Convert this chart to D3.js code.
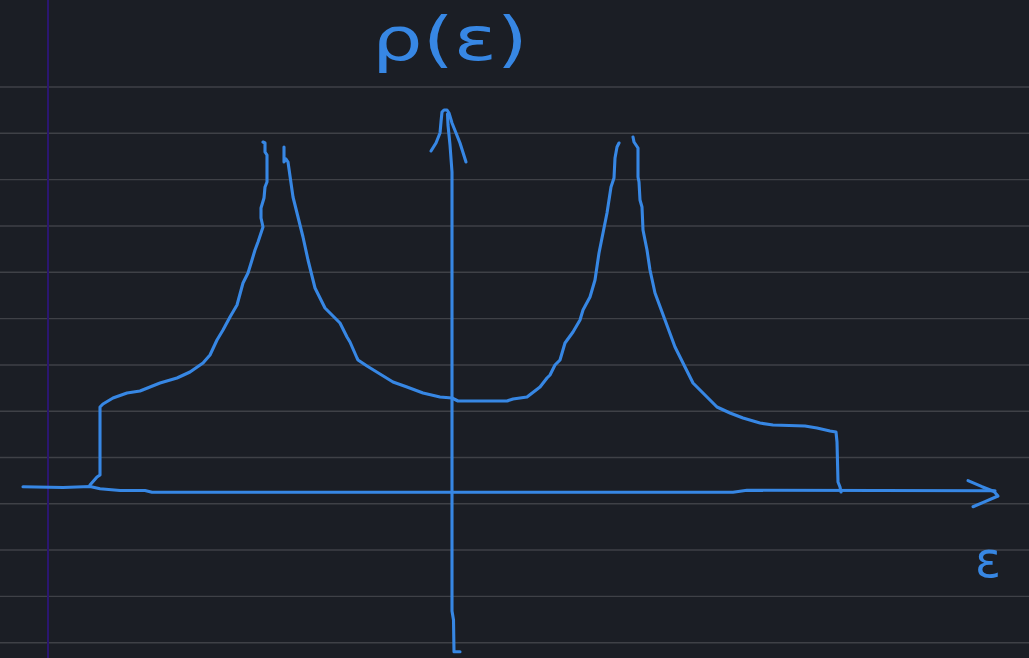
<!DOCTYPE html>
<html>
<head>
<meta charset="utf-8">
<script src="https://cdn.jsdelivr.net/npm/d3@7"></script>
<style>
  html, body { margin: 0; padding: 0; background: #1b1e25; }
  svg { display: block; }
</style>
</head>
<body>
<svg id="chart" width="1029" height="658"></svg>
<script>
// ---- Data (sketch units: ε horizontal, ρ vertical, origin at axes crossing) ----
// Paper rule lines (ρ positions) and margin line (ε position)
const ruleLines = [405, 358.7, 312.4, 266, 219.7, 173.4, 127, 80.8, 34.5, -11.8, -58, -104.4, -150.7];
const marginLine = [-404];

// Density of states ρ(ε): three hand-drawn strokes
const dosLeft = [
  [-362,7],[-355,15],[-352,17],[-352,85],[-349,88],[-339,94],[-325,99],[-312,101],
  [-292,109],[-275,114],[-262,120],[-249,129],[-242,137],[-235,152],[-229,162],
  [-222,175],[-215,187],[-209,209],[-204,219],[-200,232],[-197,242],[-194,250],
  [-189,265],[-191,274],[-191,284],[-188,294],[-187,305],[-185,310],[-185,337],
  [-187,340],[-187,349],[-189,350]
];
const dosMiddle = [
  [-168,345],[-168,330],[-166,333],[-164,330],[-159,295],[-154,275],[-149,255],
  [-144,232],[-137,204],[-127,184],[-115,172],[-112,169],[-105,155],[-102,150],
  [-95,134],[-94,132],[-85,126],[-72,118],[-59,110],[-45,105],[-29,99],[-12,95],
  [0,94],[6,91],[55,91],[61,93],[75,95],[88,105],[95,114],[98,117],[103,127],
  [108,132],[113,149],[121,160],[128,172],[131,182],[138,195],[143,212],[147,239],
  [151,259],[155,279],[159,305],[162,314],[163,334],[165,345],[167,349]
];
const dosRight = [
  [181,355],[182,350],[186,344],[186,315],[187,310],[188,292],[190,285],[191,262],
  [195,242],[198,222],[203,199],[213,172],[223,145],[231,129],[241,109],[255,95],
  [265,85],[278,79],[291,74],[308,69],[321,67],[353,66],[365,64],[378,61],
  [384,60],[385,50],[386,10],[388,5],[389,0]
];

// Axes strokes
const epsAxis = [
  [-429,5.3],[-389,4.5],[-362,5.5],[-352,3.3],[-332,1.5],[-307,1.5],[-300,-0.3],
  [281,-0.3],[295,1.7],[543,1.3]
];
const epsArrow = [[516,11.3],[530,5.3],[542,0.5],[546,-4],[533,-9.7],[521,-14.7]];
const rhoAxis = [[8,-159.7],[2,-159.7],[1.5,-128],[0,-119],[0,320],[-2,347],[-4,367],[-4.5,378]];
const rhoArrow = [
  [-21,341],[-16,349],[-12,359],[-11,370],[-10,380],[-8,382],[-5,382],[-3,379],
  [0,369],[8,349],[14,330]
];

// Labels
const axisLabels = [
  { text: "ρ(ε)", eps: -80, rho: 432, size: 60, length: 156 },
  { text: "ε", eps: 523, rho: -85, size: 50, length: 26 }
];

// ---- Drawing ----
const W = 1029, H = 658;
const x = d3.scaleLinear().domain([-452, 577]).range([0, W]);
const y = d3.scaleLinear().domain([492, -166]).range([0, H]);

const svg = d3.select("#chart");
const blue = "#3787e4";

svg.append("rect").attr("width", W).attr("height", H).attr("fill", "#1b1e25");

svg.append("g").selectAll("line").data(ruleLines).join("line")
  .attr("x1", 0).attr("x2", W)
  .attr("y1", d => y(d)).attr("y2", d => y(d))
  .attr("stroke", "#3f4147").attr("stroke-width", 1.4);

svg.append("g").selectAll("line").data(marginLine).join("line")
  .attr("x1", d => x(d)).attr("x2", d => x(d))
  .attr("y1", 0).attr("y2", H)
  .attr("stroke", "#2a1670").attr("stroke-width", 2);

const line = d3.line().x(d => x(d[0])).y(d => y(d[1]));

const strokes = [epsAxis, epsArrow, rhoAxis, rhoArrow, dosLeft, dosMiddle, dosRight];
svg.append("g").selectAll("path").data(strokes).join("path")
  .attr("d", line)
  .attr("fill", "none")
  .attr("stroke", blue)
  .attr("stroke-width", 3.1)
  .attr("stroke-linejoin", "round")
  .attr("stroke-linecap", "round");

svg.append("g").selectAll("text").data(axisLabels).join("text")
  .attr("x", d => x(d.eps)).attr("y", d => y(d.rho))
  .attr("font-family", "DejaVu Sans, sans-serif")
  .attr("font-size", d => d.size)
  .attr("textLength", d => d.length)
  .attr("lengthAdjust", "spacingAndGlyphs")
  .attr("fill", blue)
  .text(d => d.text);
</script>
</body>
</html>
